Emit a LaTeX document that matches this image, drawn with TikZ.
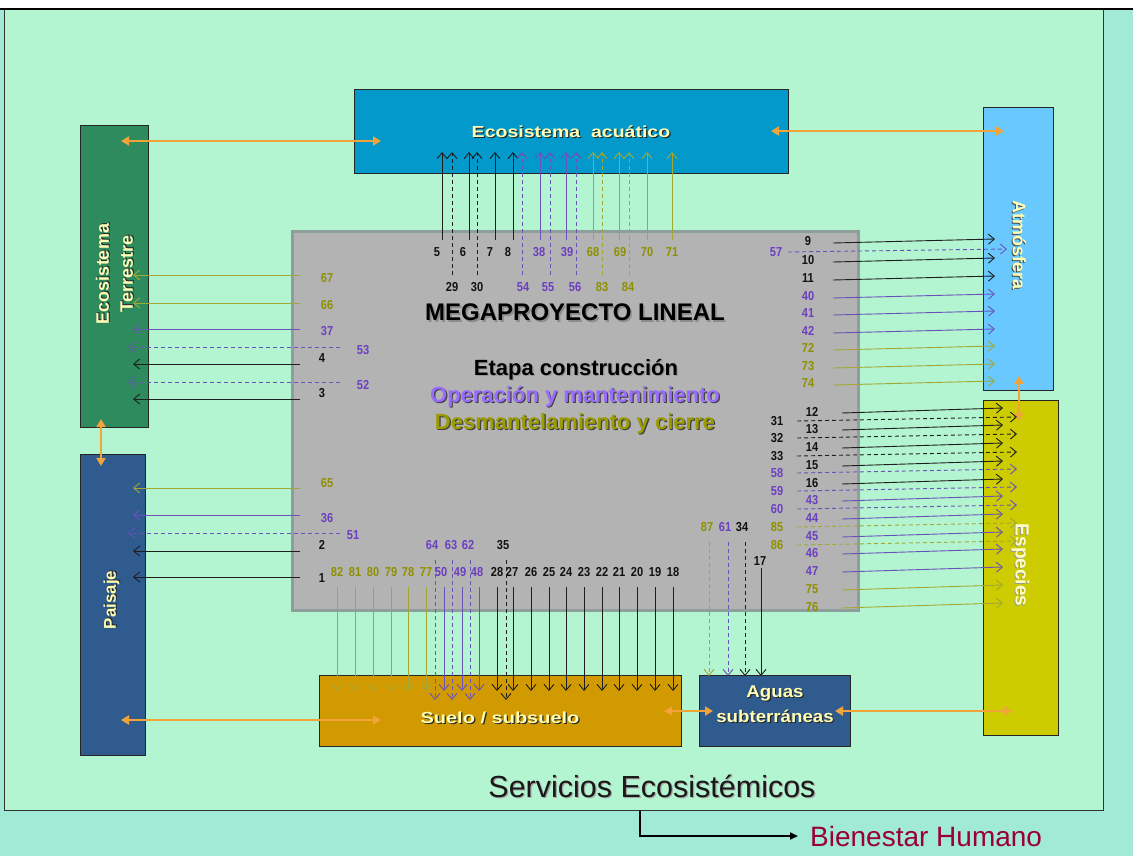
\documentclass[tikz,border=0pt]{standalone}
\usepackage{fontspec}
\setmainfont{Liberation Sans}
\usetikzlibrary{arrows.meta}
\definecolor{bgpanel}{HTML}{B3F5D1}
\definecolor{bgouter}{HTML}{A0EAD6}
\definecolor{grayc}{HTML}{B3B3B3}
\definecolor{grayb}{HTML}{8E9E9C}
\definecolor{acuc}{HTML}{0399CB}
\definecolor{terc}{HTML}{2E8B5E}
\definecolor{paic}{HTML}{2F5B8E}
\definecolor{suec}{HTML}{D09A00}
\definecolor{atmc}{HTML}{69C9FF}
\definecolor{espc}{HTML}{CCCC00}
\definecolor{orc}{HTML}{F2A33A}
\definecolor{Lblk}{HTML}{1E1E1E}
\definecolor{Tblk}{HTML}{111111}
\definecolor{Lpur}{HTML}{6A52B8}
\definecolor{Tpur}{HTML}{6B3FC0}
\definecolor{Lolv}{HTML}{A2A833}
\definecolor{Tolv}{HTML}{8F8F00}
\definecolor{lyel}{HTML}{FFFFB8}
\definecolor{opc}{HTML}{9A6BFF}
\definecolor{desc}{HTML}{9C9C00}
\definecolor{bien}{HTML}{990033}
\newcommand\shd[4]{\rlap{\hspace*{#3}\raisebox{-#3}{\color{#2}#4}}{\color{#1}#4}}
\newcommand\nlab[2]{\scalebox{0.85}[1]{\color{#1}#2}}
\tikzset{
  box/.style={draw=black!85, line width=0.8pt, inner sep=0pt, anchor=center},
  oarr/.style={draw=orc, line width=2.6pt, {Triangle[length=8pt,width=9pt]}-{Triangle[length=8pt,width=9pt]}},
  na/.style={line width=0.9pt, -{Straight Barb[length=6pt,width=10pt]}},
  dsh/.style={dash pattern=on 4pt off 3pt},
  lab/.style={font=\fontsize{13}{14}\selectfont\bfseries, inner sep=0pt},
  btxt/.style={font=\bfseries\fontsize{17}{24}\selectfont, inner sep=0pt, align=center}
}
\begin{document}
\begin{tikzpicture}[x=1pt,y=-1pt]
\useasboundingbox (0,0) rectangle (1133,856);
\fill[white] (0,0) rectangle (1133,856);
\fill[bgouter] (0,9) rectangle (1133,856);
\fill[bgpanel, draw=black!80, line width=0.8pt] (4,9) rectangle (1103,810);
\draw[black, line width=1.2pt] (0,9) -- (1133,9);

% central grey area
\node[draw=grayb, fill=grayc, line width=3pt, minimum width=566pt, minimum height=379pt, inner sep=0pt] (mega) at (575.5,421) {};

% boxes
\node[box, fill=acuc, minimum width=434pt, minimum height=84pt] (acu) at (571,131) {};
\node[box, fill=terc, minimum width=68pt, minimum height=302pt] (ter) at (114,276) {};
\node[box, fill=paic, minimum width=65pt, minimum height=301pt] (pai) at (112.5,604.5) {};
\node[box, fill=suec, minimum width=362pt, minimum height=71pt] (sue) at (500,710.5) {};
\node[box, fill=paic, minimum width=151pt, minimum height=71pt] (agu) at (774.5,710.5) {};
\node[box, fill=atmc, minimum width=70pt, minimum height=283pt] (atm) at (1018,248.5) {};
\node[box, fill=espc, minimum width=75pt, minimum height=335pt] (esp) at (1020.5,567.5) {};

% box texts
\node[btxt, font=\bfseries\fontsize{16}{19}\selectfont] (tacu) at (571,132) {\scalebox{1.22}[1]{\shd{lyel}{black!85}{1pt}{Ecosistema\ \ acuático}}};
\node[btxt, rotate=90, font=\bfseries\fontsize{18}{24}\selectfont] (tter) at (115,274) {\shd{lyel}{black!85}{1pt}{Ecosistema}\\\shd{lyel}{black!85}{1pt}{Terrestre}};
\node[btxt, rotate=90] (tpai) at (112,600) {\shd{lyel}{black!85}{1pt}{Paisaje}};
\node[btxt, rotate=-90, font=\bfseries\fontsize{18}{22}\selectfont] (tatm) at (1019,245) {\shd{lyel}{black!70}{1pt}{Atmósfera}};
\node[btxt, rotate=-90, font=\bfseries\fontsize{19}{22}\selectfont] (tesp) at (1020,565) {\shd{lyel!80!white}{black!40}{1pt}{Especies}};
\node[btxt, font=\bfseries\fontsize{16}{19}\selectfont] (tsue) at (500,718) {\scalebox{1.25}[1]{\shd{lyel}{black!85}{1pt}{Suelo / subsuelo}}};
\node[btxt, font=\bfseries\fontsize{17}{25}\selectfont] (tagu) at (775,705) {\scalebox{1.1}[1]{\shd{lyel}{black!85}{1pt}{Aguas}}\\\scalebox{1.1}[1]{\shd{lyel}{black!85}{1pt}{subterráneas}}};

% orange links
\coordinate (o1a) at (121,141); \coordinate (o1b) at (381,141);
\coordinate (o2a) at (101,419); \coordinate (o2b) at (101,466);
\coordinate (o3a) at (771,131); \coordinate (o3b) at (1004,131);
\coordinate (o4a) at (121,720); \coordinate (o4b) at (381,720);
\coordinate (o5a) at (664,711); \coordinate (o5b) at (713,711);
\coordinate (o6a) at (835,711); \coordinate (o6b) at (1012,711);
\coordinate (o7a) at (1019,376); \coordinate (o7b) at (1019,421);
\foreach \k in {1,...,7}{\draw[oarr] (o\k a) -- (o\k b);}

% ---- arrows to Ecosistema acuatico
\foreach \x/\lx/\n/\co in {442/437/5/blk,469/463/6/blk,495/490/7/blk,513/508/8/blk,540/539/38/pur,566/567/39/pur,593/593/68/olv,619/620/69/olv,647/647/70/olv,672/672/71/olv}{
  \coordinate (ua\n) at (\x,240); \coordinate (ub\n) at (\x,152);
  \draw[na, draw=L\co] (ua\n) -- (ub\n);
  \node[lab] (n\n) at (\lx,252) {\nlab{T\co}{\n}};
}
\foreach \x/\lx/\n/\co in {452/452/29/blk,477/477/30/blk,522/523/54/pur,550/548/55/pur,576/575/56/pur,602/602/83/olv,629/628/84/olv}{
  \coordinate (ua\n) at (\x,275); \coordinate (ub\n) at (\x,152);
  \draw[na, dsh, draw=L\co] (ua\n) -- (ub\n);
  \node[lab] (n\n) at (\lx,287) {\nlab{T\co}{\n}};
}

% ---- arrows to Ecosistema Terrestre and Paisaje
\foreach \y/\lx/\ly/\n/\co in {275/327/278/67/olv,303/327/305/66/olv,329/327/331/37/pur,364/322/358/4/blk,399/322/393/3/blk,488/327/483/65/olv,515/327/518/36/pur,551/322/545/2/blk,577/322/578/1/blk}{
  \coordinate (ua\n) at (300,\y); \coordinate (ub\n) at (133,\y);
  \draw[na, draw=L\co] (ua\n) -- (ub\n);
  \node[lab] (n\n) at (\lx,\ly) {\nlab{T\co}{\n}};
}
\foreach \y/\lx/\ly/\n/\co in {347/363/350/53/pur,382/363/385/52/pur,533/353/535/51/pur}{
  \coordinate (ua\n) at (340,\y); \coordinate (ub\n) at (128,\y);
  \draw[na, dsh, draw=L\co] (ua\n) -- (ub\n);
  \node[lab] (n\n) at (\lx,\ly) {\nlab{T\co}{\n}};
}

% ---- arrows to Suelo / subsuelo
\foreach \x/\lx/\n/\co in {337/337/82/olv,355/355/81/olv,373/373/80/olv,391/391/79/olv,408/408/78/olv,426/426/77/olv,444/441/50/pur,462/460/49/pur,479/477/48/pur,497/497/28/blk,513/512/27/blk,531/531/26/blk,549/549/25/blk,566/566/24/blk,584/584/23/blk,602/602/22/blk,619/619/21/blk,637/637/20/blk,655/655/19/blk,673/673/18/blk}{
  \coordinate (ua\n) at (\x,587); \coordinate (ub\n) at (\x,691);
  \draw[na, draw=L\co] (ua\n) -- (ub\n);
  \node[lab] (n\n) at (\lx,572) {\nlab{T\co}{\n}};
}
\foreach \x/\lx/\n/\co in {435/432/64/pur,452/451/63/pur,470/468/62/pur,506/503/35/blk}{
  \coordinate (ua\n) at (\x,560); \coordinate (ub\n) at (\x,700);
  \draw[na, dsh, draw=L\co] (ua\n) -- (ub\n);
  \node[lab] (n\n) at (\lx,545) {\nlab{T\co}{\n}};
}

% ---- arrows to Aguas subterraneas
\foreach \x/\lx/\n/\co in {709/707/87/olv,728/725/61/pur,745/742/34/blk}{
  \coordinate (ua\n) at (\x,542); \coordinate (ub\n) at (\x,676);
  \draw[na, dsh, draw=L\co] (ua\n) -- (ub\n);
  \node[lab] (n\n) at (\lx,527) {\nlab{T\co}{\n}};
}
\coordinate (ua17) at (761,568); \coordinate (ub17) at (761,676);
\draw[na, draw=Lblk] (ua17) -- (ub17);
\node[lab] (n17) at (760,561) {\nlab{Tblk}{17}};

% ---- arrows to Atmosfera
\foreach \y/\n/\co in {241/9/blk,260/10/blk,278/11/blk,296/40/pur,313/41/pur,331/42/pur,348/72/olv,366/73/olv,383/74/olv}{
  \coordinate (ua\n) at (833,\y+2); \coordinate (ub\n) at (995,\y-2);
  \draw[na, draw=L\co] (ua\n) -- (ub\n);
  \node[lab] (n\n) at (808,\y) {\nlab{T\co}{\n}};
}
\coordinate (ua57) at (788,252); \coordinate (ub57) at (1007,249);
\draw[na, dsh, draw=Lpur] (ua57) -- (ub57);
\node[lab] (n57) at (776,252) {\nlab{Tpur}{57}};

% ---- arrows to Especies
\foreach \y/\n/\co in {412/12/blk,429/13/blk,447/14/blk,465/15/blk,483/16/blk,500/43/pur,518/44/pur,536/45/pur,553/46/pur,571/47/pur,589/75/olv,607/76/olv}{
  \coordinate (ua\n) at (842,\y+1); \coordinate (ub\n) at (1003,\y-4);
  \draw[na, draw=L\co] (ua\n) -- (ub\n);
  \node[lab] (n\n) at (812,\y) {\nlab{T\co}{\n}};
}
\foreach \y/\n/\co in {421/31/blk,438/32/blk,456/33/blk,473/58/pur,491/59/pur,509/60/pur,527/85/olv,545/86/olv}{
  \coordinate (ua\n) at (797,\y); \coordinate (ub\n) at (1017,\y-4);
  \draw[na, dsh, draw=L\co] (ua\n) -- (ub\n);
  \node[lab] (n\n) at (777,\y) {\nlab{T\co}{\n}};
}

% central texts
\node[inner sep=0pt, font=\bfseries\fontsize{24}{28}\selectfont] (tmega) at (575,313) {\shd{black}{black!45}{1.6pt}{MEGAPROYECTO LINEAL}};
\node[inner sep=0pt, font=\bfseries\fontsize{22}{26}\selectfont] (tetapa) at (576,370) {\shd{black}{black!40}{1.2pt}{Etapa construcción}};
\node[inner sep=0pt, font=\bfseries\fontsize{22}{26}\selectfont] (toper) at (575,397) {\shd{opc}{black!75}{1.2pt}{Operación y mantenimiento}};
\node[inner sep=0pt, font=\bfseries\fontsize{22}{26}\selectfont] (tdesm) at (575,424) {\shd{desc}{black!75}{1.2pt}{Desmantelamiento y cierre}};

% bottom texts
\node[inner sep=0pt, font=\fontsize{30.5}{34}\selectfont] (serv) at (652,787) {\shd{black!90}{black!35}{1.2pt}{Servicios Ecosistémicos}};
\node[inner sep=0pt, font=\fontsize{28}{32}\selectfont, anchor=west] (bien) at (810,836) {\color{bien}Bienestar Humano};
\coordinate (sv) at (640,811);
\coordinate (bt) at (798,836);
\draw[line width=2pt, black, -{Triangle[length=8pt,width=7pt]}] (sv) |- (bt);
\end{tikzpicture}
\end{document}
